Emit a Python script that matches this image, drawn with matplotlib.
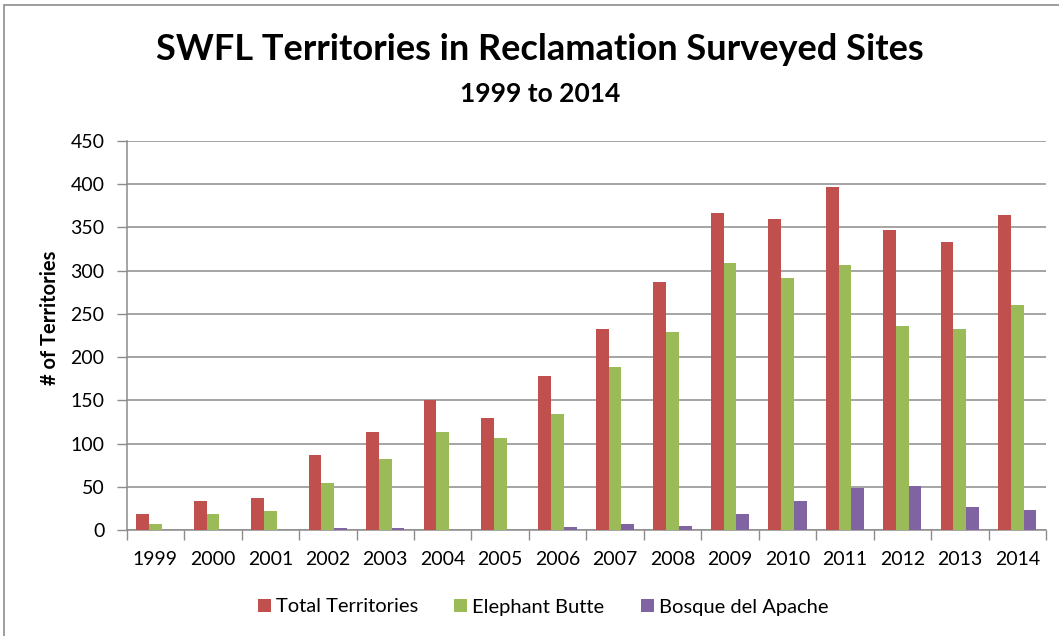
import matplotlib
matplotlib.use("Agg")
import matplotlib.pyplot as plt
import numpy as np
from matplotlib.patches import Rectangle

years = ["1999", "2000", "2001", "2002", "2003", "2004", "2005", "2006",
         "2007", "2008", "2009", "2010", "2011", "2012", "2013", "2014"]
total_territories = [18, 33, 37, 87, 113, 150, 130, 178, 232, 287, 367, 360, 397, 347, 333, 364]
elephant_butte = [7, 18, 22, 54, 82, 113, 107, 134, 189, 229, 309, 292, 306, 236, 233, 260]
bosque_del_apache = [0, 0, 0, 2, 2, 0, 0, 3, 7, 5, 19, 34, 49, 51, 27, 23]
series_names = ["Total Territories", "Elephant Butte", "Bosque del Apache"]
colors = ["#C0504D", "#9BBB59", "#8064A2"]

plt.rcParams['font.family'] = ['Lato', 'DejaVu Sans']

W, H = 1059, 636
fig = plt.figure(figsize=(W / 100, H / 100), dpi=100)
fig.patch.set_facecolor("white")

# outer chart border
fig.patches.append(Rectangle((4 / W, -0.1), 1.2, (H - 5) / H + 0.1, transform=fig.transFigure,
                             fill=False, edgecolor="#8c8c8c", linewidth=1.2))

ax = fig.add_axes([126.7 / W, 106 / H, (1046 - 126.7) / W, (530 - 141) / H])

x = np.arange(len(years))
bw = 0.222
for i, (vals, c, name) in enumerate(zip([total_territories, elephant_butte, bosque_del_apache], colors, series_names)):
    ax.bar(x + (i - 1) * bw, vals, width=bw, color=c, label=name, zorder=3)

ax.set_xlim(-0.5, len(years) - 0.5)
ax.set_ylim(0, 450)
ax.set_yticks(np.arange(0, 451, 50))
ax.set_xticks(x)
ax.set_xticklabels(years)
ax.set_xticks(np.arange(-0.5, len(years), 1), minor=True)
ax.tick_params(axis="x", which="major", length=0, pad=15, labelsize=14, colors="black")
ax.tick_params(axis="x", which="minor", length=7, width=1, color="#8c8c8c")
ax.tick_params(axis="y", length=7, width=1, color="#8c8c8c", labelsize=14, pad=9)
ax.grid(axis="y", color="#8c8c8c", linewidth=1.1, zorder=0)
for s in ["top", "right"]:
    ax.spines[s].set_visible(False)
for s in ["left", "bottom"]:
    ax.spines[s].set_color("#8c8c8c")
    ax.spines[s].set_linewidth(1.1)

ax.set_ylabel("# of Territories", fontsize=14.5, fontweight="bold", labelpad=8)
ax.yaxis.set_label_coords(50 / W, 0.5, transform=fig.transFigure)
ax.yaxis.label.set_verticalalignment("center")

fig.text(540 / W, 1 - 50 / H, "SWFL Territories in Reclamation Surveyed Sites",
         ha="center", va="center", fontsize=26, fontweight="bold")
fig.text(540 / W, 1 - 94 / H, "1999 to 2014", ha="center", va="center",
         fontsize=19, fontweight="bold")

leg = fig.legend(loc="center", bbox_to_anchor=(543 / W, 1 - 607 / H), ncol=3, frameon=False,
                 fontsize=14.5, handlelength=0.65, handleheight=0.65, handletextpad=0.25,
                 columnspacing=1.8)

fig.savefig("out.png", dpi=100, facecolor="white")
